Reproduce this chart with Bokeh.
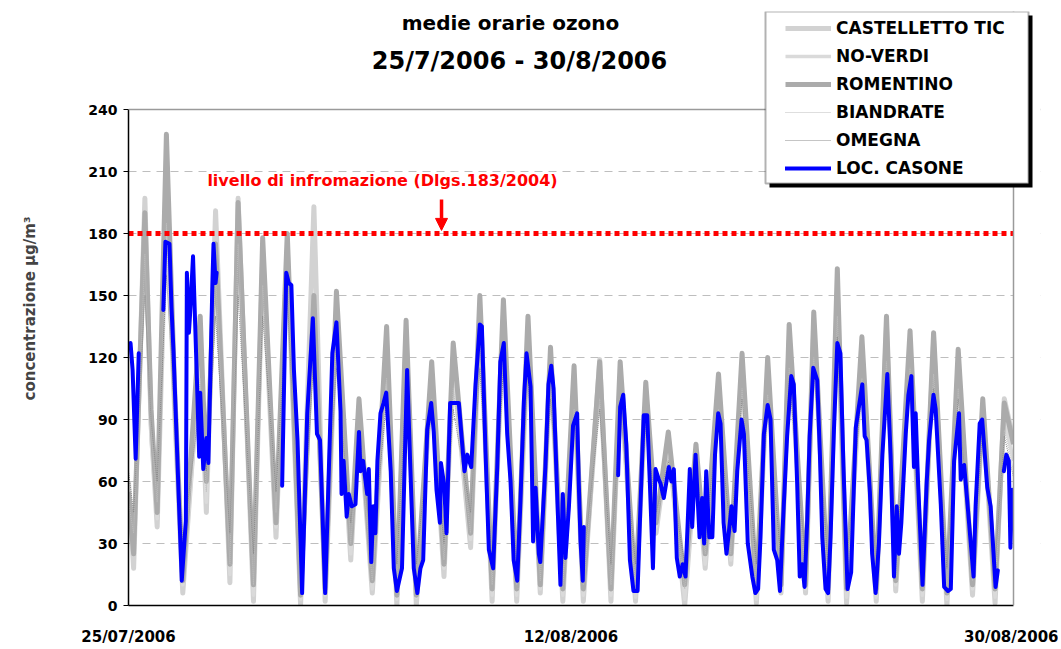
import math
from bokeh.plotting import figure
from bokeh.models import (Range1d, FixedTicker, Label, Arrow, NormalHead, Span,
                          Legend, LegendItem, BoxAnnotation)
from bokeh.embed import file_html
from bokeh.resources import INLINE

NaN = float("nan")

# ---------------- data ----------------
X_TICKS = [0, 432, 864]                      # hours since 25/07/2006 00:00
X_TICK_LABELS = ["25/07/2006", "12/08/2006", "30/08/2006"]
Y_TICKS = [0, 30, 60, 90, 120, 150, 180, 210, 240]
THRESHOLD = 180
THRESHOLD_TEXT = "livello di infromazione (Dlgs.183/2004)"
TITLE_1 = "medie orarie ozono"
TITLE_2 = "25/7/2006 - 30/8/2006"
Y_LABEL = "concentrazione µg/m³"

# LOC. CASONE hourly means (hour, value); NaN = missing data
CASONE_POINTS = [
    (2, 127), (4, 114), (7, 71), (10, 122), (11, NaN),
    (34, 143), (36, 176), (40, 175), (42, 144), (44, 122), (52, 12), (56, 41),
    (57, 161), (59, 132), (60, 140), (63, 169), (67, 106), (69, 72), (70, 103),
    (73, 66), (76, 81), (78, 69), (82, 158), (83, 175), (85, 156), (86, 161), (87, NaN),
    (150, 58), (154, 161), (156.5, 156), (159, 155), (161.5, 114), (165, 80),
    (169.5, 6), (174.5, 93), (180, 139), (184, 83), (187, 80), (192, 6), (199, 122),
    (203, 137), (207, 94), (208, 54), (210, 70), (213, 43), (215, 54), (218, 48),
    (221.6, 49), (225, 84), (226.5, 65), (229, 70), (233, 54), (234.6, 66), (237, 21),
    (239, 48), (241, 35), (243, 70), (246, 93), (249, 98), (251.6, 103), (256, 65),
    (259, 18), (262, 7), (267, 18), (272, 114), (275, 69), (278.5, 18), (282, 6),
    (285, 18), (287.7, 22), (291.6, 85), (295.5, 98), (298, 84), (300.7, 56),
    (304, 40), (305, 69), (308, 59), (310.5, 35), (314, 98), (317.6, 98), (322.5, 98),
    (325.8, 78), (328, 65), (330.7, 73), (334.6, 67), (338.8, 107), (343, 136),
    (345, 135), (348.5, 75), (351.8, 27), (356, 18), (360, 67), (363, 118),
    (366.4, 127), (369.7, 83), (373, 60), (376, 22), (379.5, 12), (382.7, 51),
    (386, 99), (388.6, 122), (392.5, 106), (395, 31), (397.4, 57), (400.6, 25),
    (402, 21), (407, 67), (410, 107), (412.7, 116), (415, 105), (418.5, 54),
    (421.7, 10), (424, 54), (426.6, 23), (430, 48), (434, 87), (438, 93), (439.6, 59),
    (441.3, 31), (443.5, 12), (444.5, 38), (445, NaN),
    (478, 63), (480, 96), (483, 102), (486, 78), (489.5, 22), (493, 7), (497, 7),
    (500, 51), (503, 92), (506.4, 92), (509, 59), (512, 18), (514.5, 66), (517.7, 61),
    (519.4, 59), (522.6, 52), (527.5, 67), (530, 60), (532.4, 66), (535.3, 23),
    (538.2, 14), (541, 20), (543.8, 14), (546, 41), (548, 66), (550.3, 38),
    (553.6, 73), (557.5, 33), (560, 52), (562, 30), (564, 65), (567, 33), (570, 33),
    (572.6, 73), (575.7, 93), (578, 88), (581, 40), (583.8, 25), (586, 35),
    (588.7, 48), (591.7, 36), (594.3, 65), (598.5, 90), (600.8, 83), (604.6, 30),
    (609, 14), (612, 6), (614.7, 8), (617, 33), (620.3, 83), (624, 97), (626.8, 90),
    (630, 27), (633.3, 22), (636, 7), (639, 41), (643, 82), (647, 111), (649.5, 107),
    (652.8, 59), (655.3, 14), (657.7, 20), (660, 9), (662.6, 41), (665, 82),
    (668.5, 115), (672.4, 109), (675, 73), (677.3, 33), (680.5, 8), (683, 6),
    (685.4, 33), (688.7, 85), (692, 127), (695, 122), (698, 67), (702, 8),
    (705.5, 16), (710, 86), (713, 96), (716.4, 107), (718.7, 82), (720.6, 80),
    (723.8, 55), (726, 25), (729.4, 6), (732.6, 30), (736, 73), (740.8, 112),
    (744, 73), (747.3, 14), (750, 48), (752.2, 25), (754.5, 40), (758.8, 83),
    (761.4, 102), (764.3, 111), (766.8, 67), (768.5, 93), (770.8, 60), (775.2, 10),
    (779.3, 60), (781.6, 80), (785.9, 102), (788, 95), (793, 49), (796.3, 9),
    (800, 7), (802.8, 8), (806, 70), (810.8, 93), (812.5, 61), (815.8, 68),
    (819.1, 49), (825, 14), (827, 48), (831, 88), (833.4, 90), (838.4, 57),
    (841.7, 48), (846.5, 9), (848.7, 17), (849, NaN),
    (854.6, 65), (857, 73), (859.4, 70), (861, 28), (862.8, 56), (864, 49),
]

# Other stations: daily turning points (hours shared)
G_HOURS = [0, 5, 16, 22, 28, 37, 45, 53, 70, 76, 85, 99, 107, 122, 131, 144, 155, 168,
           181, 192, 203, 217, 225, 238, 252, 262, 271, 281, 296, 308, 317, 334, 343,
           355, 366, 379, 390, 402, 412, 424, 435, 444, 460, 471, 480, 495, 505, 515,
           527, 543, 554, 563, 576, 588, 599, 613, 624, 637, 645, 661, 669, 683, 692,
           701, 716, 730, 740, 749, 763, 775, 786, 799, 810, 824, 834, 846, 855, 864]

CASTELLETTO = [60, 18, 197, 88, 38, 200, 95, 6, 125, 45, 191, 11, 197, 2, 170,
               33, 172, 0, 193, 2, 140, 22, 95, 6, 123, 0, 130, 0, 110, 14,
               118, 28, 140, 2, 140, 2, 128, 6, 118, 2, 105, 2, 119, 2, 110,
               2, 100, 35, 80, 0, 72, 18, 105, 20, 115, 1, 112, 6, 128, 6,
               135, 2, 150, 1, 122, 2, 135, 7, 125, 2, 128, 0, 115, 5, 95,
               1, 100, 80]
NO_VERDI = [45, 30, 180, 80, 42, 190, 90, 10, 115, 50, 165, 15, 185, 5, 160,
            38, 165, 3, 140, 5, 135, 25, 90, 8, 115, 3, 120, 4, 105, 18,
            110, 32, 138, 5, 130, 5, 125, 8, 115, 5, 100, 5, 105, 5, 105,
            4, 98, 38, 76, 3, 70, 20, 100, 22, 110, 3, 108, 8, 122, 8,
            128, 4, 145, 4, 115, 4, 125, 10, 120, 5, 118, 3, 110, 8, 92,
            4, 90, 70]
ROMENTINO = [55, 25, 190, 95, 45, 228, 105, 12, 140, 60, 175, 20, 195, 10, 178,
             40, 180, 5, 150, 8, 152, 30, 100, 12, 135, 5, 138, 5, 118, 20,
             127, 35, 150, 8, 148, 8, 140, 10, 125, 8, 116, 8, 118, 8, 118,
             8, 108, 40, 84, 10, 78, 25, 112, 25, 122, 8, 120, 10, 136, 10,
             142, 8, 163, 8, 130, 8, 140, 12, 133, 8, 132, 6, 124, 10, 100,
             8, 98, 78]
BIANDRATE = [50, 35, 170, 85, 50, 185, 80, 15, 110, 55, 160, 20, 175, 10, 155,
             45, 160, 8, 135, 10, 130, 30, 85, 12, 110, 8, 115, 8, 100, 22,
             105, 35, 130, 10, 125, 10, 120, 12, 110, 10, 95, 10, 100, 10, 100,
             10, 92, 40, 72, 8, 68, 25, 95, 25, 105, 8, 102, 12, 115, 12,
             120, 8, 140, 8, 110, 8, 118, 14, 115, 10, 112, 8, 105, 12, 88,
             8, 85, 65]
OMEGNA = [65, 45, 150, 90, 60, 160, 95, 30, 100, 65, 140, 35, 150, 25, 140,
          55, 150, 20, 120, 25, 115, 40, 85, 25, 100, 20, 105, 20, 95, 30,
          95, 45, 115, 20, 115, 20, 110, 22, 100, 20, 90, 20, 95, 20, 95,
          20, 88, 45, 70, 20, 65, 35, 90, 35, 100, 20, 95, 22, 110, 22,
          115, 20, 130, 20, 105, 20, 110, 25, 105, 20, 105, 18, 100, 22, 85,
          20, 82, 62]

CASONE_HOURS = [p[0] for p in CASONE_POINTS]
CASONE_VALUES = [p[1] for p in CASONE_POINTS]

FONT = "DejaVu Sans"

# ---------------- figure ----------------
# The frame is extended above and to the right of the data area so that the
# title and the legend (which sit outside the plot box) are not clipped.
X_END = 864 * 912 / 885          # frame reaches 27 px beyond the last hour
Y_END = 240 * 594 / 496          # frame reaches 98 px above 240
p = figure(width=1058, height=649, output_backend="svg", toolbar_location=None,
           x_range=Range1d(0, X_END), y_range=Range1d(0, Y_END),
           min_border_left=128, min_border_right=18, min_border_top=11,
           min_border_bottom=44, background_fill_color="white",
           border_fill_color="white")
p.outline_line_color = None

# series
r_cast = p.line(G_HOURS, CASTELLETTO, line_color="#D2D2D2", line_width=5, line_join="round")
r_nov = p.line(G_HOURS, NO_VERDI, line_color="#DADADA", line_width=3.5, line_join="round")
r_rom = p.line(G_HOURS, ROMENTINO, line_color="#ABABAB", line_width=5, line_join="round")
r_bia = p.line(G_HOURS, BIANDRATE, line_color="#BDBDBD", line_width=1, line_dash="1 1")
r_ome = p.line(G_HOURS, OMEGNA, line_color="#8A8A8A", line_width=1, line_dash="1 1")
r_cas = p.line(CASONE_HOURS, CASONE_VALUES, line_color="#0000FF", line_width=4,
               line_join="round", line_cap="round")

# threshold line (over the data span only)
p.line([X_TICKS[0], X_TICKS[-1]], [THRESHOLD, THRESHOLD], line_color="#FF0000",
       line_width=5, line_dash="5 4")
p.add_layout(Label(x=248, y=205.5, text=THRESHOLD_TEXT, text_color="#FF0000",
                   text_font=FONT, text_font_style="bold", text_font_size="16px",
                   text_align="center", text_baseline="middle"))
p.add_layout(Arrow(end=NormalHead(size=12, fill_color="#FF0000", line_color="#FF0000"),
                   x_start=305.6, y_start=196.5, x_end=305.6, y_end=181.5,
                   line_color="#FF0000", line_width=3.5))

# plot-box border (top and right), grid hidden beyond the last hour
p.add_layout(Span(location=Y_TICKS[-1], dimension="width", line_color="#9A9A9A",
                  line_width=1.5))
p.add_layout(BoxAnnotation(left=X_TICKS[-1], fill_color="white", fill_alpha=1,
                           line_color=None))
p.add_layout(Span(location=X_TICKS[-1], dimension="height", line_color="#9A9A9A",
                  line_width=1.5))

# titles (screen units relative to the frame)
for txt, sx, sy, fs in [(TITLE_1, 382, 583, "20px"), (TITLE_2, 391, 545, "24px")]:
    p.add_layout(Label(x=sx, y=sy, x_units="screen", y_units="screen", text=txt,
                       text_font=FONT, text_font_style="bold", text_font_size=fs,
                       text_align="center", text_baseline="middle", text_color="black"))

# axes
p.xgrid.visible = False
p.ygrid.ticker = FixedTicker(ticks=Y_TICKS[1:-1])
p.ygrid.grid_line_color = "#BEBEBE"
p.ygrid.grid_line_dash = "8 6"
p.ygrid.grid_line_width = 1

p.yaxis.ticker = FixedTicker(ticks=Y_TICKS)
p.yaxis.bounds = (Y_TICKS[0], Y_TICKS[-1])
p.yaxis.axis_line_color = "black"
p.yaxis.axis_line_width = 1.5
p.yaxis.major_tick_out = 5
p.yaxis.major_tick_in = 0
p.yaxis.minor_tick_line_color = None
p.yaxis.major_label_standoff = 6
p.yaxis.major_label_text_font = FONT
p.yaxis.major_label_text_font_style = "bold"
p.yaxis.major_label_text_font_size = "14px"
p.yaxis.major_label_text_color = "black"
p.yaxis.axis_label = Y_LABEL
p.yaxis.axis_label_text_font = FONT
p.yaxis.axis_label_text_font_style = "bold"
p.yaxis.axis_label_text_font_size = "15px"
p.yaxis.axis_label_standoff = 46

p.xaxis.ticker = FixedTicker(ticks=X_TICKS)
p.xaxis.bounds = (X_TICKS[0], X_TICKS[-1])
p.xaxis.major_label_overrides = {t: s for t, s in zip(X_TICKS, X_TICK_LABELS)}
p.xaxis.axis_line_color = "black"
p.xaxis.axis_line_width = 1.5
p.xaxis.major_tick_line_color = None
p.xaxis.major_tick_out = 0
p.xaxis.major_tick_in = 0
p.xaxis.minor_tick_line_color = None
p.xaxis.minor_tick_out = 0
p.xaxis.major_label_standoff = 22
p.xaxis.major_label_text_font = FONT
p.xaxis.major_label_text_font_style = "bold"
p.xaxis.major_label_text_font_size = "15px"
p.xaxis.major_label_text_color = "black"

# legend box with shadow
p.add_layout(BoxAnnotation(left=641, right=904, bottom=418, top=590,
                           left_units="screen", right_units="screen",
                           bottom_units="screen", top_units="screen",
                           fill_color="black", fill_alpha=1, line_color=None))
p.add_layout(BoxAnnotation(left=637, right=900, bottom=422, top=594,
                           left_units="screen", right_units="screen",
                           bottom_units="screen", top_units="screen",
                           fill_color="white", fill_alpha=1, line_color="black",
                           line_width=2))

legend = Legend(items=[
    LegendItem(label="CASTELLETTO TIC", renderers=[r_cast]),
    LegendItem(label="NO-VERDI", renderers=[r_nov]),
    LegendItem(label="ROMENTINO", renderers=[r_rom]),
    LegendItem(label="BIANDRATE", renderers=[r_bia]),
    LegendItem(label="OMEGNA", renderers=[r_ome]),
    LegendItem(label="LOC. CASONE", renderers=[r_cas]),
], location=(657, 427), padding=0, margin=0, spacing=8,
    glyph_width=46, glyph_height=20, label_height=20, label_standoff=5,
    label_text_font=FONT, label_text_font_style="bold", label_text_font_size="17px",
    label_text_color="black", background_fill_alpha=0, border_line_color=None)
p.add_layout(legend, "center")

open("out.html", "w").write(file_html(p, INLINE))
